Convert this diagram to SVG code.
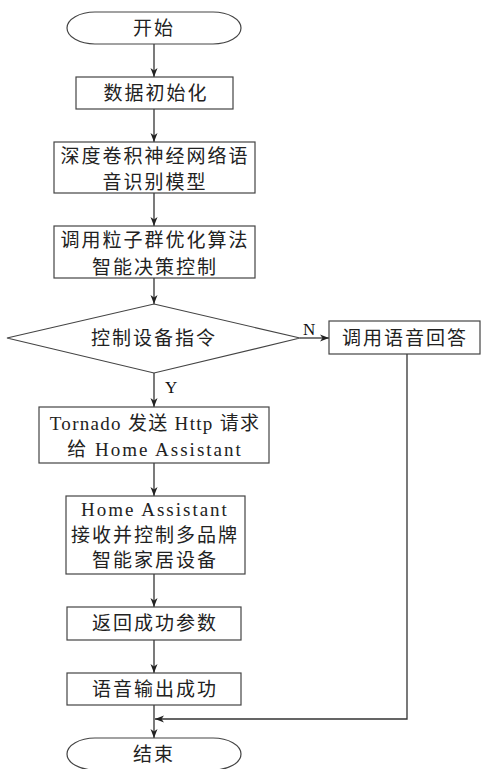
<svg xmlns="http://www.w3.org/2000/svg" width="485" height="769" viewBox="0 0 485 769">
<defs>
<marker id="ah" markerWidth="10" markerHeight="10" refX="9" refY="5" orient="auto" markerUnits="userSpaceOnUse">
<path d="M0,1.5 L9,5 L0,8.5 L2.5,5 Z" fill="#222"/>
</marker>
<style>
.n{fill:#fff;stroke:#444;stroke-width:1.2}
.t{font-family:"Liberation Serif","Noto Sans CJK SC",serif;font-size:19px;fill:#222;text-anchor:middle;letter-spacing:2px}
.c{fill:none;stroke:#333;stroke-width:1.3}
.l{font-family:"Liberation Serif",serif;font-size:17px;fill:#111}
</style>
</defs>
<rect width="485" height="769" fill="#fff"/>
<g id="connectors">
<line class="c" x1="154" y1="44" x2="154" y2="77" marker-end="url(#ah)"/>
<line class="c" x1="154" y1="109" x2="154" y2="142" marker-end="url(#ah)"/>
<line class="c" x1="154" y1="193" x2="154" y2="226" marker-end="url(#ah)"/>
<line class="c" x1="154" y1="278" x2="154" y2="304" marker-end="url(#ah)"/>
<line class="c" x1="300" y1="338" x2="329" y2="338" marker-end="url(#ah)"/>
<line class="c" x1="154" y1="373" x2="154" y2="407" marker-end="url(#ah)"/>
<line class="c" x1="154" y1="463" x2="154" y2="496" marker-end="url(#ah)"/>
<line class="c" x1="154" y1="574" x2="154" y2="607" marker-end="url(#ah)"/>
<line class="c" x1="154" y1="640" x2="154" y2="673" marker-end="url(#ah)"/>
<line class="c" x1="154" y1="705" x2="154" y2="738" marker-end="url(#ah)"/>
<polyline class="c" points="407,354 407,719 155,719" marker-end="url(#ah)"/>
<text class="l" x="303" y="335">N</text>
<text class="l" x="165" y="393">Y</text>
</g>
<g id="start">
<rect class="n" x="67" y="12" width="174" height="32" rx="28" ry="16"/>
<text class="t" x="154" y="35">开始</text>
</g>
<g id="init">
<rect class="n" x="76" y="77" width="157" height="32"/>
<text class="t" x="156" y="100">数据初始化</text>
</g>
<g id="cnn">
<rect class="n" x="54" y="142" width="201" height="51"/>
<text class="t" x="155" y="163">深度卷积神经网络语</text>
<text class="t" x="155" y="189">音识别模型</text>
</g>
<g id="pso">
<rect class="n" x="54" y="226" width="201" height="52"/>
<text class="t" x="155" y="247">调用粒子群优化算法</text>
<text class="t" x="155" y="274">智能决策控制</text>
</g>
<g id="decision">
<polygon class="n" points="154,304 300,338 154,373 7,338"/>
<text class="t" x="154" y="345">控制设备指令</text>
</g>
<g id="voice">
<rect class="n" x="329" y="321" width="151" height="33"/>
<text class="t" x="405" y="345">调用语音回答</text>
</g>
<g id="tornado">
<rect class="n" x="39" y="407" width="230" height="56"/>
<text class="t" x="155" y="430" style="letter-spacing:1.3px">Tornado 发送 Http 请求</text>
<text class="t" x="155" y="456">给 Home Assistant</text>
</g>
<g id="ha">
<rect class="n" x="66" y="496" width="179" height="78"/>
<text class="t" x="155" y="516">Home Assistant</text>
<text class="t" x="155" y="542">接收并控制多品牌</text>
<text class="t" x="155" y="567">智能家居设备</text>
</g>
<g id="ret">
<rect class="n" x="67" y="607" width="174" height="33"/>
<text class="t" x="155" y="630">返回成功参数</text>
</g>
<g id="out">
<rect class="n" x="67" y="673" width="174" height="32"/>
<text class="t" x="155" y="696">语音输出成功</text>
</g>
<g id="end">
<rect class="n" x="67" y="738" width="174" height="32" rx="28" ry="16"/>
<text class="t" x="154" y="761">结束</text>
</g>
</svg>
